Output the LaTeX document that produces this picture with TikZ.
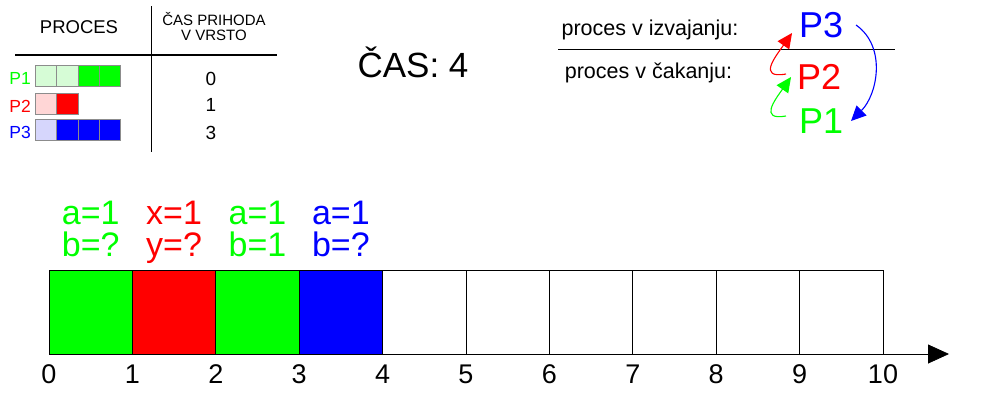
\documentclass[tikz,border=0pt]{standalone}
\usepackage{fontspec}
\setmainfont{Liberation Sans}
\usetikzlibrary{arrows.meta}
\definecolor{pg}{RGB}{0,255,0}
\definecolor{pr}{RGB}{255,0,0}
\definecolor{pb}{RGB}{0,0,255}
\definecolor{lg}{RGB}{214,252,214}
\definecolor{lr}{RGB}{255,214,214}
\definecolor{lb}{RGB}{214,214,252}
\begin{document}
\begin{tikzpicture}[x=1pt,y=-1pt,
  every node/.style={inner sep=0pt,anchor=base},
  cell/.style={draw=black,line width=0.8pt},
  mini/.style={draw=black!45,line width=0.6pt},
  tick/.style={font=\fontsize{27}{27}\selectfont},
  vals/.style={font=\fontsize{34}{34}\selectfont},
  big/.style={font=\fontsize{36}{36}\selectfont},
  lbl/.style={font=\fontsize{21.5}{21.5}\selectfont},
  small/.style={font=\fontsize{17.5}{17.5}\selectfont},
  num/.style={font=\fontsize{19}{19}\selectfont},
  tiny/.style={font=\fontsize{15}{15}\selectfont},
  arr/.style={line width=1.1pt,-{Triangle[length=15pt,width=14pt]}}
]
\useasboundingbox (0,0) rectangle (1000,400);
% timeline
\foreach \i/\c in {0/pg,1/pr,2/pg,3/pb}{
  \fill[\c] ({49+83.4*\i},270) rectangle ({49+83.4*(\i+1)},354);
}
\foreach \i in {0,...,9}{
  \draw[cell] ({49+83.4*\i},270) rectangle ({49+83.4*(\i+1)},354);
}
\foreach \i in {0,...,10}{
  \node[tick] (t\i) at ({49+83.4*\i},383) {\i};
}
\coordinate (axs) at (49,354);
\coordinate (axe) at (949,354);
\draw[line width=0.8pt,-{Triangle[length=21pt,width=19pt]}] (axs) -- (axe);
\foreach \i/\c/\ta/\tb in {0/pg/a=1/b=?,1/pr/x=1/y=?,2/pg/a=1/b=1,3/pb/a=1/b=?}{
  \node[vals,text=\c] (va\i) at ({49+83.4*(\i+0.5)},224) {\ta};
  \node[vals,text=\c] (vb\i) at ({49+83.4*(\i+0.5)},256) {\tb};
}
% table
\coordinate (vt) at (151.5,6); \coordinate (vb) at (151.5,152);
\coordinate (hl) at (15,55); \coordinate (hr) at (277,55);
\draw[line width=1.3pt] (vt) -- (vb);
\draw[line width=1.3pt] (hl) -- (hr);
\node[font=\fontsize{18.5}{18.5}\selectfont] (proc) at (79,33) {PROCES};
\node[tiny] (cas1) at (214,25) {ČAS PRIHODA};
\node[tiny] (cas2) at (214,40) {V VRSTO};
\node[num] (n0) at (211,85.5) {0};
\node[num] (n1) at (211,111.5) {1};
\node[num] (n3) at (211,139) {3};
\node[small,text=pg,anchor=base east] (p1) at (31,84) {P1};
\node[small,text=pr,anchor=base east] (p2) at (31,112) {P2};
\node[small,text=pb,anchor=base east] (p3) at (31,138.5) {P3};
% mini bars
\fill[lg] (35,65.5) rectangle (78.3,86.5);
\fill[pg] (78.3,65.5) rectangle (120.7,86.5);
\foreach \x in {35,56.4,77.8,99.3}{ \draw[mini] (\x,65.5) rectangle ({\x+21.4},86.5); }
\fill[lr] (35,93) rectangle (56.4,114);
\fill[pr] (56.4,93) rectangle (77.8,114);
\foreach \x in {35,56.4}{ \draw[mini] (\x,93) rectangle ({\x+21.4},114); }
\fill[lb] (35,119.5) rectangle (56.4,140.5);
\fill[pb] (56.4,119.5) rectangle (120.7,140.5);
\foreach \x in {35,56.4,77.8,99.3}{ \draw[mini] (\x,119.5) rectangle ({\x+21.4},140.5); }
% clock
\node[font=\fontsize{35}{35}\selectfont] (time) at (413,77.5) {ČAS: 4};
% queue
\node[lbl] (izv) at (650,35) {proces v izvajanju:};
\node[lbl] (cak) at (648.5,78) {proces v čakanju:};
\coordinate (ql) at (558,49.5); \coordinate (qr) at (895,49.5);
\draw[line width=1.3pt] (ql) -- (qr);
\node[big,text=pb,anchor=base west] (q3) at (799,37) {P3};
\node[big,text=pr,anchor=base west] (q2) at (797,89) {P2};
\node[big,text=pg,anchor=base west] (q1) at (799,133) {P1};
\draw[arr,pr] (786,74) to[out=190,in=235,looseness=1.8] (792,33);
\draw[arr,pg] (786,116) to[out=190,in=235,looseness=1.8] (791,77);
\draw[arr,pb] (856,25) to[out=-35,in=45,looseness=1.0] (851,121);
\end{tikzpicture}
\end{document}
